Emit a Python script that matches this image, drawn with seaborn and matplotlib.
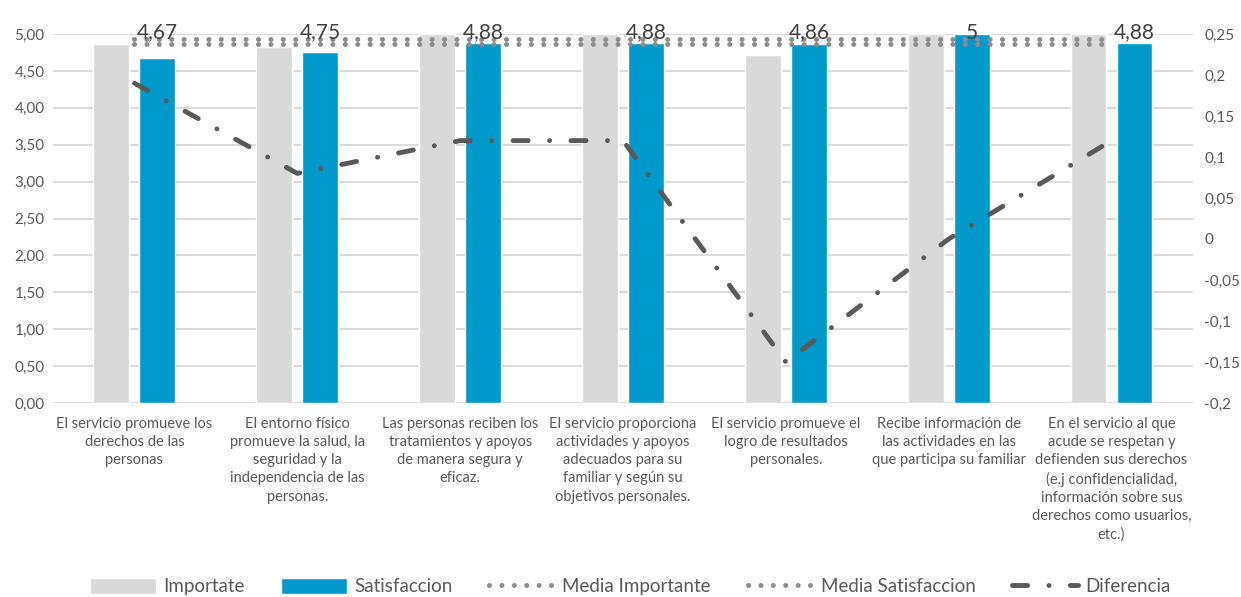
import matplotlib
matplotlib.use("Agg")
import matplotlib.pyplot as plt
import matplotlib.ticker as mticker
import seaborn as sns
import pandas as pd
import numpy as np

# data
categories = [
    "El servicio promueve los\nderechos de las\npersonas",
    "El entorno físico\npromueve la salud, la\nseguridad y la\nindependencia de las\npersonas.",
    "Las personas reciben los\ntratamientos y apoyos\nde manera segura y\neficaz.",
    "El servicio proporciona\nactividades y apoyos\nadecuados para su\nfamiliar y según su\nobjetivos personales.",
    "El servicio promueve el\nlogro de resultados\npersonales.",
    "Recibe información de\nlas actividades en las\nque participa su familiar",
    "En el servicio al que\nacude se respetan y\ndefienden sus derechos\n(e.j confidencialidad,\ninformación sobre sus\nderechos como usuarios,\netc.)",
]
importante = [4.86, 4.83, 5.00, 5.00, 4.71, 5.00, 5.00]
satisfaccion = [4.67, 4.75, 4.88, 4.88, 4.86, 5.00, 4.88]
sat_labels = ["4,67", "4,75", "4,88", "4,88", "4,86", "5", "4,88"]
media_importante = [4.93] * 7
media_satisfaccion = [4.87] * 7
diferencia = [0.19, 0.08, 0.12, 0.12, -0.15, 0.0, 0.12]

GRAY_BAR = "#d9d9d9"
BLUE = "#0099cc"
DOTS = "#8c8c8c"
DARK = "#595959"

sns.set_theme(style="white")
plt.rcParams["font.family"] = ["Lato", "DejaVu Sans"]

bars = pd.DataFrame({
    "cat": categories * 2,
    "valor": importante + satisfaccion,
    "serie": ["Importate"] * 7 + ["Satisfaccion"] * 7,
})
idx = np.arange(len(categories))

fig = plt.figure(figsize=(12.41, 5.97), dpi=100)
ax = fig.add_axes([0.0427, 0.325, 0.9186, 0.618])

bar_width = 0.565
sns.barplot(data=bars, x="cat", y="valor", hue="serie", ax=ax,
            palette=[GRAY_BAR, BLUE], width=bar_width, gap=0.22,
            saturation=1, legend=True)

# average lines (round dots)
dot_style = (0, (0.01, 2.47))
sns.lineplot(x=idx, y=media_importante, ax=ax, color=DOTS, lw=3.6,
             linestyle=dot_style, dash_capstyle="round",
             label="Media Importante")
sns.lineplot(x=idx, y=media_satisfaccion, ax=ax, color=DOTS, lw=3.6,
             linestyle=dot_style, dash_capstyle="round",
             label="Media Satisfaccion")

# value labels over the blue bars
for i, t in enumerate(sat_labels):
    ax.text(i + bar_width / 4, 5.02, t, ha="center", va="center",
            fontsize=15, color="#404040")

ax.set_ylim(0, 5)
ax.set_xlim(-0.5, len(categories) - 0.5)
ax.yaxis.set_major_locator(mticker.MultipleLocator(0.5))
ax.yaxis.set_major_formatter(mticker.FuncFormatter(lambda v, p: f"{v:.2f}".replace(".", ",")))
ax.grid(axis="y", color="#d9d9d9", lw=1.3)
ax.set_axisbelow(True)
for s in ax.spines.values():
    s.set_visible(False)
ax.set_xlabel("")
ax.set_ylabel("")
ax.tick_params(axis="y", length=0, labelsize=11, labelcolor=DARK, pad=6)
ax.tick_params(axis="x", length=0, labelsize=10.5, labelcolor=DARK, pad=10)
for lbl in ax.get_xticklabels():
    lbl.set_linespacing(1.38)

# secondary axis: difference
ax2 = ax.twinx()
sns.lineplot(x=idx, y=diferencia, ax=ax2, color=DARK, lw=3.5,
             linestyle=(0, (3.1, 4.4, 0.01, 4.4)), dash_capstyle="round",
             label="Diferencia")
ax2.set_ylim(-0.2, 0.25)
ax2.yaxis.set_major_locator(mticker.MultipleLocator(0.05))
ax2.yaxis.set_major_formatter(mticker.FuncFormatter(
    lambda v, p: ("0" if abs(v) < 1e-9 else f"{v:.2f}".rstrip("0").replace(".", ","))))
ax2.tick_params(axis="y", length=0, labelsize=11, labelcolor=DARK, pad=8)
ax2.set_ylabel("")
for s in ax2.spines.values():
    s.set_visible(False)
ax2.grid(False)

h1, l1 = ax.get_legend_handles_labels()
h2, l2 = ax2.get_legend_handles_labels()
ax.get_legend().remove()
ax2.get_legend().remove()
fig.legend(h1 + h2, l1 + l2, loc="center", bbox_to_anchor=(0.508, 0.017),
           ncol=5, frameon=False, fontsize=13.5, handlelength=3.5,
           handleheight=0.9, columnspacing=1.95, handletextpad=0.4,
           labelcolor=DARK)

fig.savefig("out.png", dpi=100)
